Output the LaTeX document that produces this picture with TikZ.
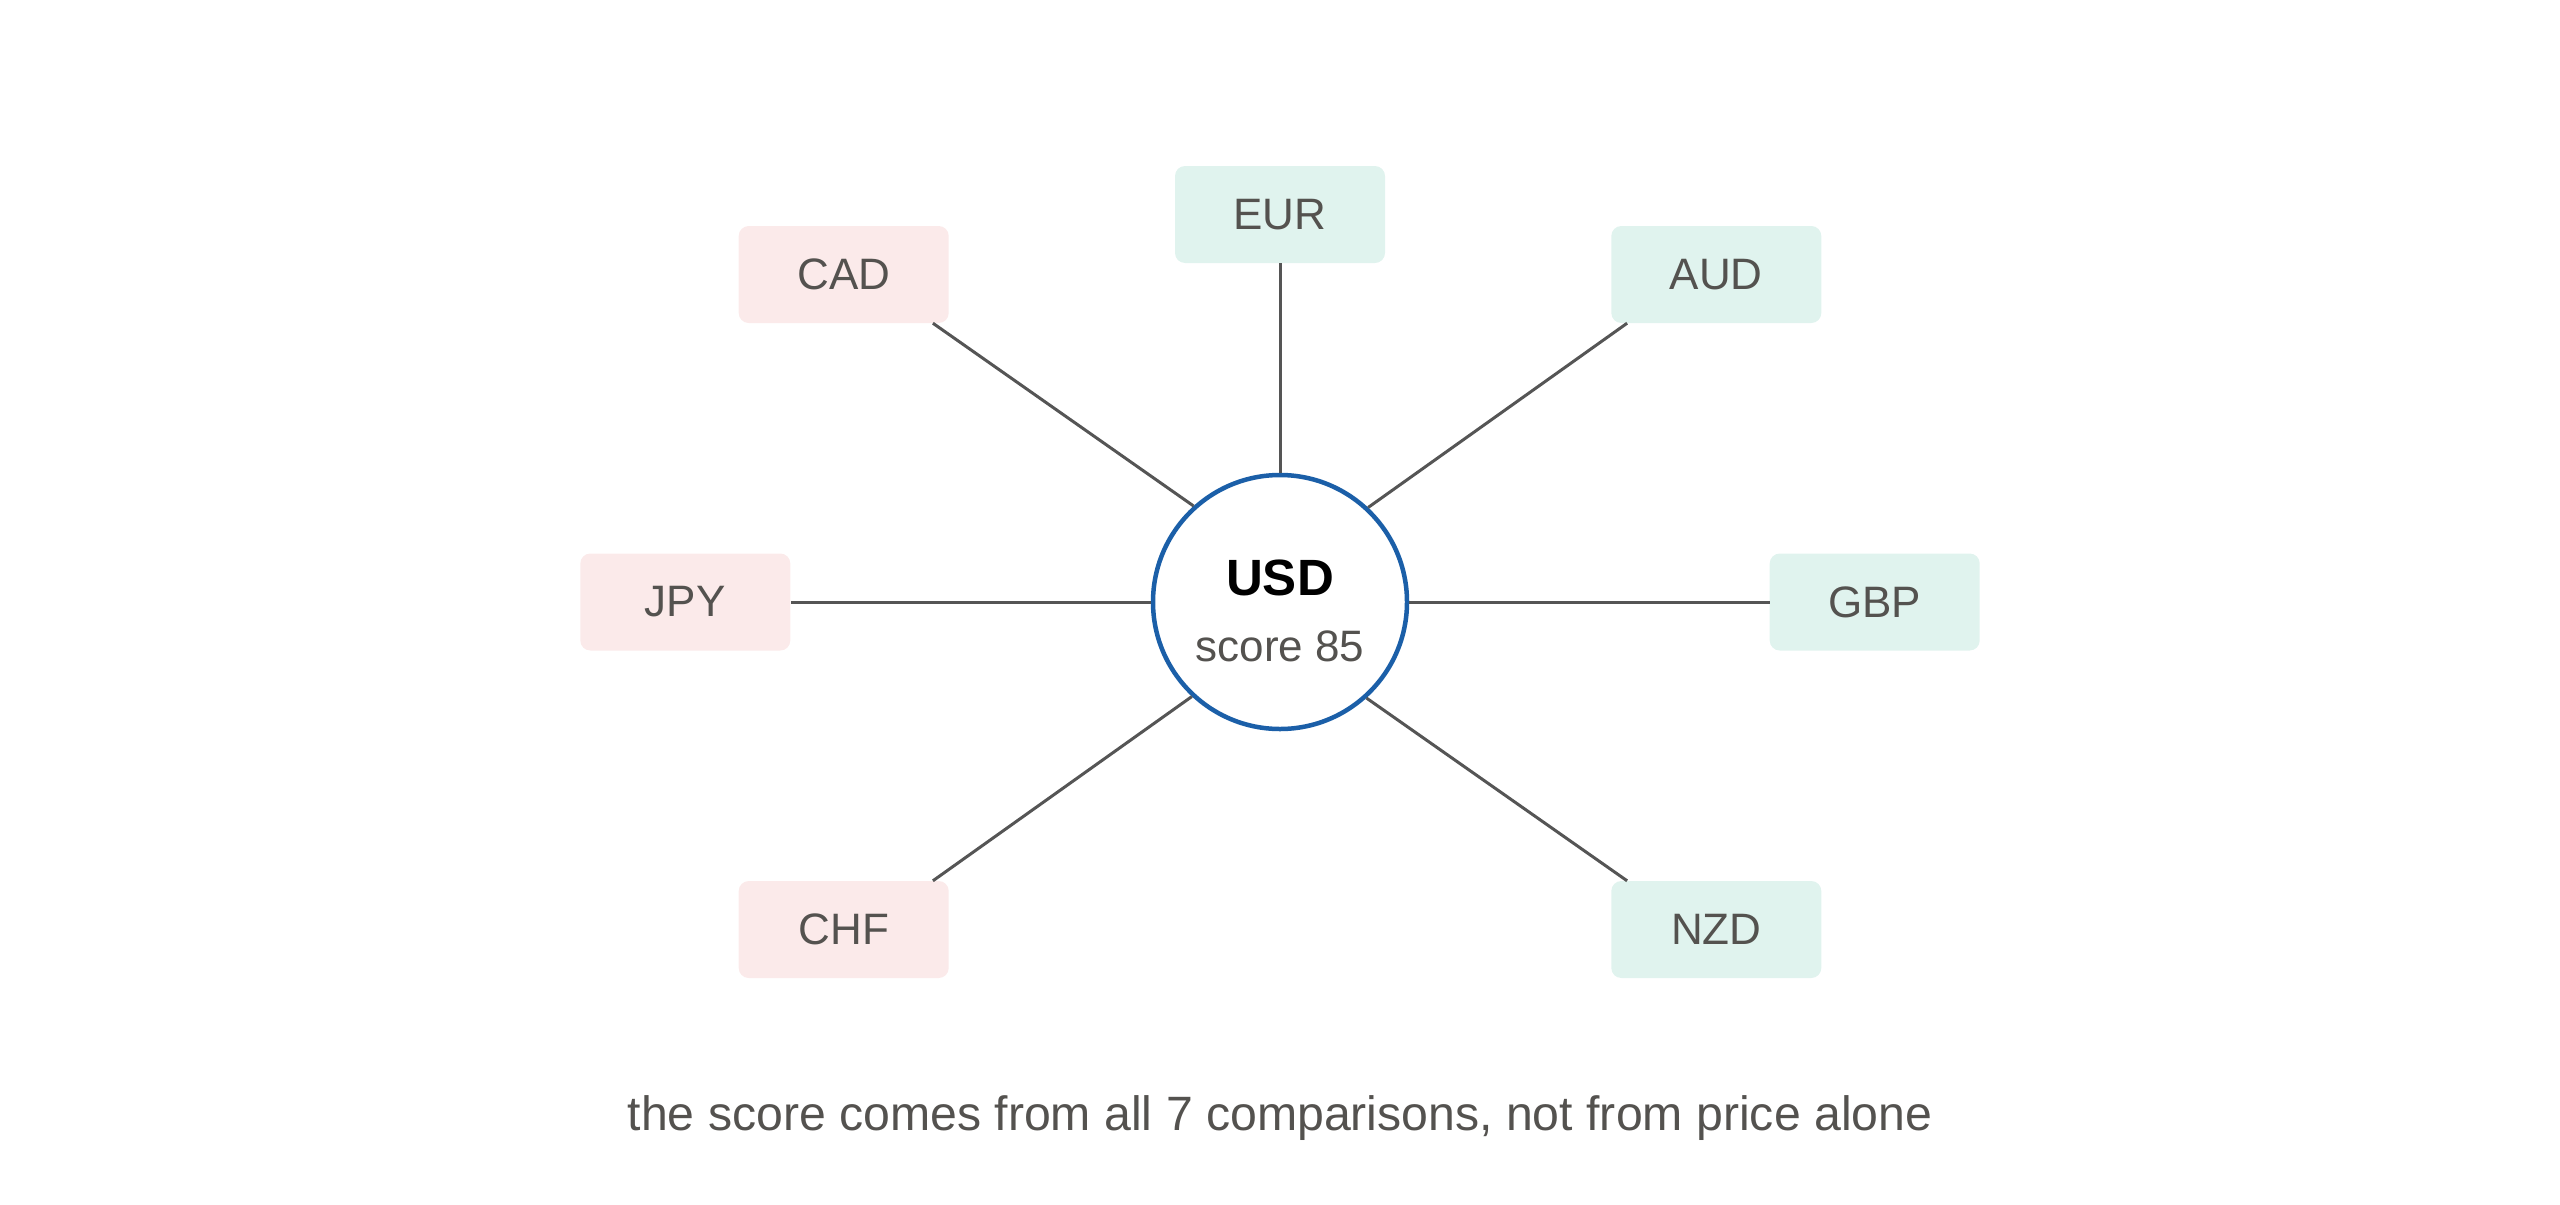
\documentclass[tikz,border=0pt]{standalone}
\usepackage{fontspec}
\setmainfont{Liberation Sans}
\definecolor{txtgray}{HTML}{54524F}
\definecolor{linegray}{HTML}{555555}
\definecolor{pinkfill}{HTML}{FBEAEA}
\definecolor{greenfill}{HTML}{E0F3EE}
\definecolor{usdblue}{HTML}{1B5FA8}
\tikzset{
  ccy/.style={rectangle, rounded corners=10pt, minimum width=210pt, minimum height=97pt, inner sep=0pt,
    text=txtgray, font=\fontsize{44}{50}\selectfont},
  weak/.style={ccy, fill=pinkfill},
  strong/.style={ccy, fill=greenfill},
  link/.style={draw=linegray, line width=3pt},
  hub/.style={circle, draw=usdblue, line width=4.5pt, fill=white, minimum size=254pt, inner sep=0pt},
}
\begin{document}
\begin{tikzpicture}[x=1pt,y=-1pt]
\useasboundingbox (0,0) rectangle (2560,1205);
\node[hub] (usd) at (1280,602) {};
\node[strong] (eur) at (1280,214.5) {EUR};
\node[weak] (cad) at (843.7,274.5) {CAD};
\node[strong] (aud) at (1716.3,274.5) {AUD};
\node[weak] (jpy) at (685.3,602) {JPY};
\node[strong] (gbp) at (1874.7,602) {GBP};
\node[weak] (chf) at (843.7,929.5) {CHF};
\node[strong] (nzd) at (1716.3,929.5) {NZD};
\draw[link] (usd.north) -- (eur.south);
\draw[link] (usd.west) -- (jpy.east);
\draw[link] (usd.east) -- (gbp.west);
\draw[link] (usd.132.4) -- ([xshift=-16pt]cad.south east);
\draw[link] (usd.47.6) -- ([xshift=16pt]aud.south west);
\draw[link] (usd.227.6) -- ([xshift=-16pt]chf.north east);
\draw[link] (usd.312.4) -- ([xshift=16pt]nzd.north west);
\node[anchor=base, inner sep=0pt, font=\fontsize{51}{60}\selectfont\bfseries, text=black] (usdlbl) at (1280,595) {USD};
\node[anchor=base, inner sep=0pt, font=\fontsize{44}{52}\selectfont, text=txtgray] (score) at (1280,661.7) {score 85};
\node[anchor=base, inner sep=0pt, font=\fontsize{48.2}{56}\selectfont, text=txtgray] (caption) at (1280,1130) {the score comes from all 7 comparisons, not from price alone};
\end{tikzpicture}
\end{document}
